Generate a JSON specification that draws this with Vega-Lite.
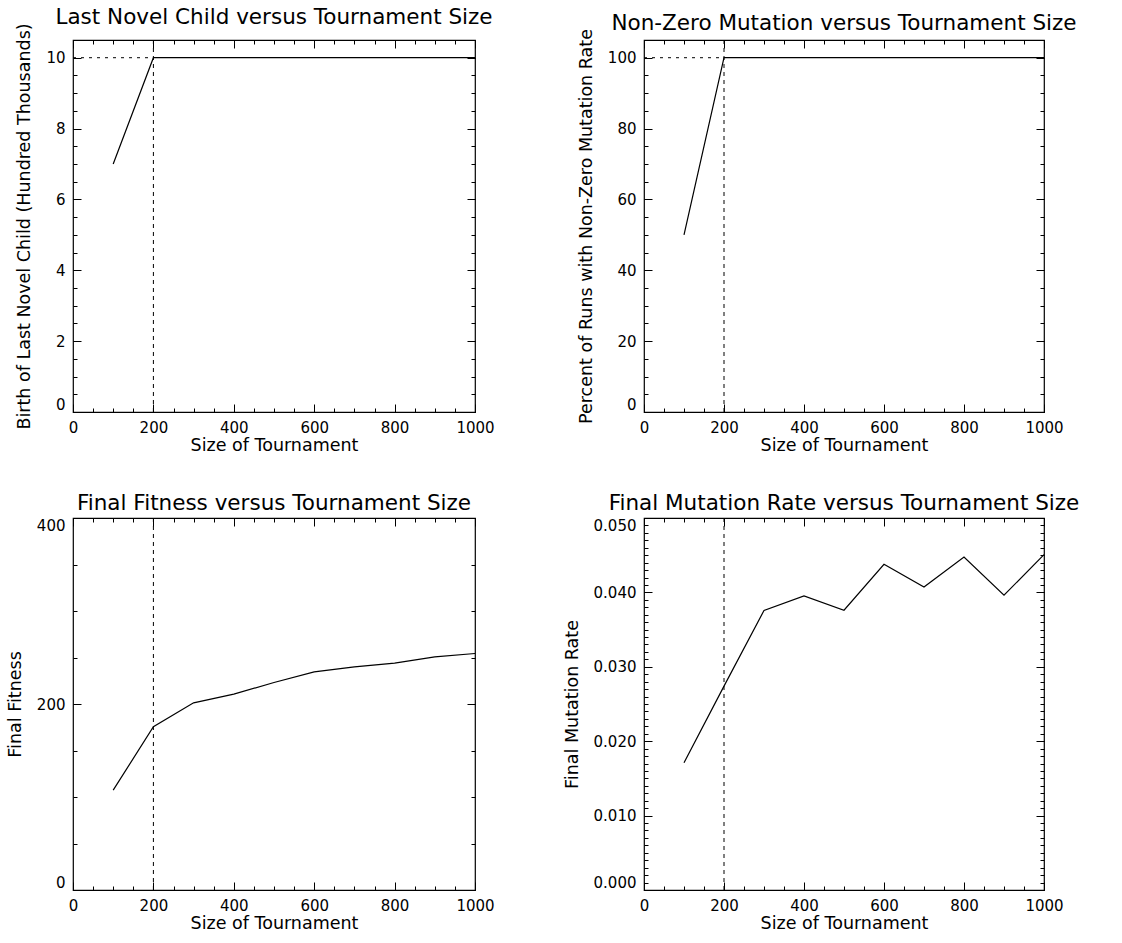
{
  "$schema": "https://vega.github.io/schema/vega-lite/v6.json",
  "padding": {"left": 5, "top": 6, "right": 5, "bottom": 5},
  "background": "white",
  "datasets": {
    "main": [
      {"size": 100, "birth": 7, "pct": 50, "fitness": 107.4, "mutrate": 0.0171},
      {"size": 200, "birth": 10, "pct": 100, "fitness": 175.5, "mutrate": 0.0274},
      {"size": 300, "birth": 10, "pct": 100, "fitness": 201.3, "mutrate": 0.03756},
      {"size": 400, "birth": 10, "pct": 100, "fitness": 210.6, "mutrate": 0.03953},
      {"size": 500, "birth": 10, "pct": 100, "fitness": 223.1, "mutrate": 0.0376},
      {"size": 600, "birth": 10, "pct": 100, "fitness": 234.6, "mutrate": 0.04378},
      {"size": 700, "birth": 10, "pct": 100, "fitness": 239.9, "mutrate": 0.04073},
      {"size": 800, "birth": 10, "pct": 100, "fitness": 243.9, "mutrate": 0.04476},
      {"size": 900, "birth": 10, "pct": 100, "fitness": 250.7, "mutrate": 0.03962},
      {"size": 1000, "birth": 10, "pct": 100, "fitness": 254.3, "mutrate": 0.04508}
    ]
  },
  "columns": 2,
  "spacing": {"row": 106, "column": 169},
  "bounds": "flush",
  "concat": [
    {
      "width": 402, "height": 372,
      "title": "Last Novel Child versus Tournament Size",
      "data": {"name": "main"},
      "layer": [
        {"mark": {"type": "line", "color": "black", "strokeWidth": 1.2},
         "encoding": {
           "x": {"field": "size", "type": "quantitative", "scale": {"domain": [0, 1000], "nice": false, "zero": false},
                 "axis": {"orient": "bottom", "values": [0, 200, 400, 600, 800, 1000], "format": "d", "ticks": false, "tickSize": 0, "labelPadding": 8, "title": "Size of Tournament", "titlePadding": 1}},
           "y": {"field": "birth", "type": "quantitative", "scale": {"domain": [0, 10.5], "nice": false, "zero": false},
                 "axis": {"orient": "left", "values": [0, 2, 4, 6, 8, 10], "format": "d", "ticks": false, "tickSize": 0, "labelPadding": 8, "labelFlush": true, "title": "Birth of Last Novel Child (Hundred Thousands)", "titlePadding": 12}}
         }},
        {"mark": {"type": "point", "opacity": 0},
         "encoding": {
           "x": {"field": "size", "type": "quantitative", "axis": {"orient": "bottom", "values": [0, 200, 400, 600, 800, 1000], "labels": false, "title": null, "tickSize": -8}},
           "y": {"field": "birth", "type": "quantitative", "axis": {"orient": "left", "values": [0, 2, 4, 6, 8, 10], "labels": false, "title": null, "tickSize": -8}}
         }},
        {"mark": {"type": "point", "opacity": 0},
         "encoding": {
           "x": {"field": "size", "type": "quantitative", "axis": {"orient": "bottom", "values": [0,50,100,150,200,250,300,350,400,450,500,550,600,650,700,750,800,850,900,950,1000], "labels": false, "title": null, "tickSize": -4}},
           "y": {"field": "birth", "type": "quantitative", "axis": {"orient": "left", "values": [0,0.5,1,1.5,2,2.5,3,3.5,4,4.5,5,5.5,6,6.5,7,7.5,8,8.5,9,9.5,10,10.5], "labels": false, "title": null, "tickSize": -4}}
         }},
        {"mark": {"type": "point", "opacity": 0},
         "encoding": {
           "x": {"field": "size", "type": "quantitative", "axis": {"orient": "top", "values": [0, 200, 400, 600, 800, 1000], "labels": false, "title": null, "tickSize": -8}},
           "y": {"field": "birth", "type": "quantitative", "axis": {"orient": "right", "values": [0, 2, 4, 6, 8, 10], "labels": false, "title": null, "tickSize": -8}}
         }},
        {"mark": {"type": "point", "opacity": 0},
         "encoding": {
           "x": {"field": "size", "type": "quantitative", "axis": {"orient": "top", "values": [0,50,100,150,200,250,300,350,400,450,500,550,600,650,700,750,800,850,900,950,1000], "labels": false, "title": null, "tickSize": -4}},
           "y": {"field": "birth", "type": "quantitative", "axis": {"orient": "right", "values": [0,0.5,1,1.5,2,2.5,3,3.5,4,4.5,5,5.5,6,6.5,7,7.5,8,8.5,9,9.5,10,10.5], "labels": false, "title": null, "tickSize": -4}}
         }},
        {"data": {"values": [{"xv": 200}]},
         "mark": {"type": "rule", "color": "black", "strokeWidth": 1, "strokeDash": [4, 4]},
         "encoding": {"x": {"field": "xv", "type": "quantitative", "axis": null}}},
        {"data": {"values": [{"xa": 0, "xb": 200, "yv": 10}]},
         "mark": {"type": "rule", "color": "black", "strokeWidth": 1, "strokeDash": [3, 5]},
         "encoding": {"x": {"field": "xa", "type": "quantitative", "axis": null}, "x2": {"field": "xb"}, "y": {"field": "yv", "type": "quantitative", "axis": null}}}
      ],
      "resolve": {"axis": {"x": "independent", "y": "independent"}}
    },
    {
      "width": 400, "height": 372,
      "title": "Non-Zero Mutation versus Tournament Size",
      "data": {"name": "main"},
      "layer": [
        {"mark": {"type": "line", "color": "black", "strokeWidth": 1.2},
         "encoding": {
           "x": {"field": "size", "type": "quantitative", "scale": {"domain": [0, 1000], "nice": false, "zero": false},
                 "axis": {"orient": "bottom", "values": [0, 200, 400, 600, 800, 1000], "format": "d", "ticks": false, "tickSize": 0, "labelPadding": 8, "title": "Size of Tournament", "titlePadding": 1}},
           "y": {"field": "pct", "type": "quantitative", "scale": {"domain": [0, 105], "nice": false, "zero": false},
                 "axis": {"orient": "left", "values": [0, 20, 40, 60, 80, 100], "format": "d", "ticks": false, "tickSize": 0, "labelPadding": 8, "labelFlush": true, "title": "Percent of Runs with Non-Zero Mutation Rate", "titlePadding": 12}}
         }},
        {"mark": {"type": "point", "opacity": 0},
         "encoding": {
           "x": {"field": "size", "type": "quantitative", "axis": {"orient": "bottom", "values": [0, 200, 400, 600, 800, 1000], "labels": false, "title": null, "tickSize": -8}},
           "y": {"field": "pct", "type": "quantitative", "axis": {"orient": "left", "values": [0, 20, 40, 60, 80, 100], "labels": false, "title": null, "tickSize": -8}}
         }},
        {"mark": {"type": "point", "opacity": 0},
         "encoding": {
           "x": {"field": "size", "type": "quantitative", "axis": {"orient": "bottom", "values": [0,50,100,150,200,250,300,350,400,450,500,550,600,650,700,750,800,850,900,950,1000], "labels": false, "title": null, "tickSize": -4}},
           "y": {"field": "pct", "type": "quantitative", "axis": {"orient": "left", "values": [0,5,10,15,20,25,30,35,40,45,50,55,60,65,70,75,80,85,90,95,100,105], "labels": false, "title": null, "tickSize": -4}}
         }},
        {"mark": {"type": "point", "opacity": 0},
         "encoding": {
           "x": {"field": "size", "type": "quantitative", "axis": {"orient": "top", "values": [0, 200, 400, 600, 800, 1000], "labels": false, "title": null, "tickSize": -8}},
           "y": {"field": "pct", "type": "quantitative", "axis": {"orient": "right", "values": [0, 20, 40, 60, 80, 100], "labels": false, "title": null, "tickSize": -8}}
         }},
        {"mark": {"type": "point", "opacity": 0},
         "encoding": {
           "x": {"field": "size", "type": "quantitative", "axis": {"orient": "top", "values": [0,50,100,150,200,250,300,350,400,450,500,550,600,650,700,750,800,850,900,950,1000], "labels": false, "title": null, "tickSize": -4}},
           "y": {"field": "pct", "type": "quantitative", "axis": {"orient": "right", "values": [0,5,10,15,20,25,30,35,40,45,50,55,60,65,70,75,80,85,90,95,100,105], "labels": false, "title": null, "tickSize": -4}}
         }},
        {"data": {"values": [{"xv": 200}]},
         "mark": {"type": "rule", "color": "black", "strokeWidth": 1, "strokeDash": [4, 4]},
         "encoding": {"x": {"field": "xv", "type": "quantitative", "axis": null}}},
        {"data": {"values": [{"xa": 0, "xb": 200, "yv": 100}]},
         "mark": {"type": "rule", "color": "black", "strokeWidth": 1, "strokeDash": [3, 5]},
         "encoding": {"x": {"field": "xa", "type": "quantitative", "axis": null}, "x2": {"field": "xb"}, "y": {"field": "yv", "type": "quantitative", "axis": null}}}
      ],
      "resolve": {"axis": {"x": "independent", "y": "independent"}}
    },
    {
      "width": 402, "height": 372,
      "title": {"text": "Final Fitness versus Tournament Size", "offset": 3},
      "data": {"name": "main"},
      "layer": [
        {"mark": {"type": "line", "color": "black", "strokeWidth": 1.2},
         "encoding": {
           "x": {"field": "size", "type": "quantitative", "scale": {"domain": [0, 1000], "nice": false, "zero": false},
                 "axis": {"orient": "bottom", "values": [0, 200, 400, 600, 800, 1000], "format": "d", "ticks": false, "tickSize": 0, "labelPadding": 8, "title": "Size of Tournament", "titlePadding": 1}},
           "y": {"field": "fitness", "type": "quantitative", "scale": {"domain": [0, 400], "nice": false, "zero": false},
                 "axis": {"orient": "left", "values": [0, 200, 400], "format": "d", "ticks": false, "tickSize": 0, "labelPadding": 8, "labelFlush": true, "title": "Final Fitness", "titlePadding": 12}}
         }},
        {"mark": {"type": "point", "opacity": 0},
         "encoding": {
           "x": {"field": "size", "type": "quantitative", "axis": {"orient": "bottom", "values": [0, 200, 400, 600, 800, 1000], "labels": false, "title": null, "tickSize": -8}},
           "y": {"field": "fitness", "type": "quantitative", "axis": {"orient": "left", "values": [0, 200, 400], "labels": false, "title": null, "tickSize": -8}}
         }},
        {"mark": {"type": "point", "opacity": 0},
         "encoding": {
           "x": {"field": "size", "type": "quantitative", "axis": {"orient": "bottom", "values": [0,50,100,150,200,250,300,350,400,450,500,550,600,650,700,750,800,850,900,950,1000], "labels": false, "title": null, "tickSize": -4}},
           "y": {"field": "fitness", "type": "quantitative", "axis": {"orient": "left", "values": [0,50,100,150,200,250,300,350,400], "labels": false, "title": null, "tickSize": -4}}
         }},
        {"mark": {"type": "point", "opacity": 0},
         "encoding": {
           "x": {"field": "size", "type": "quantitative", "axis": {"orient": "top", "values": [0, 200, 400, 600, 800, 1000], "labels": false, "title": null, "tickSize": -8}},
           "y": {"field": "fitness", "type": "quantitative", "axis": {"orient": "right", "values": [0, 200, 400], "labels": false, "title": null, "tickSize": -8}}
         }},
        {"mark": {"type": "point", "opacity": 0},
         "encoding": {
           "x": {"field": "size", "type": "quantitative", "axis": {"orient": "top", "values": [0,50,100,150,200,250,300,350,400,450,500,550,600,650,700,750,800,850,900,950,1000], "labels": false, "title": null, "tickSize": -4}},
           "y": {"field": "fitness", "type": "quantitative", "axis": {"orient": "right", "values": [0,50,100,150,200,250,300,350,400], "labels": false, "title": null, "tickSize": -4}}
         }},
        {"data": {"values": [{"xv": 200}]},
         "mark": {"type": "rule", "color": "black", "strokeWidth": 1, "strokeDash": [4, 4]},
         "encoding": {"x": {"field": "xv", "type": "quantitative", "axis": null}}}
      ],
      "resolve": {"axis": {"x": "independent", "y": "independent"}}
    },
    {
      "width": 400, "height": 372,
      "title": {"text": "Final Mutation Rate versus Tournament Size", "offset": 3},
      "data": {"name": "main"},
      "layer": [
        {"mark": {"type": "line", "color": "black", "strokeWidth": 1.2},
         "encoding": {
           "x": {"field": "size", "type": "quantitative", "scale": {"domain": [0, 1000], "nice": false, "zero": false},
                 "axis": {"orient": "bottom", "values": [0, 200, 400, 600, 800, 1000], "format": "d", "ticks": false, "tickSize": 0, "labelPadding": 8, "title": "Size of Tournament", "titlePadding": 1}},
           "y": {"field": "mutrate", "type": "quantitative", "scale": {"domain": [0, 0.05], "nice": false, "zero": false},
                 "axis": {"orient": "left", "values": [0, 0.01, 0.02, 0.03, 0.04, 0.05], "format": ".3f", "ticks": false, "tickSize": 0, "labelPadding": 8, "labelFlush": true, "title": "Final Mutation Rate", "titlePadding": 12}}
         }},
        {"mark": {"type": "point", "opacity": 0},
         "encoding": {
           "x": {"field": "size", "type": "quantitative", "axis": {"orient": "bottom", "values": [0, 200, 400, 600, 800, 1000], "labels": false, "title": null, "tickSize": -8}},
           "y": {"field": "mutrate", "type": "quantitative", "axis": {"orient": "left", "values": [0, 0.01, 0.02, 0.03, 0.04, 0.05], "labels": false, "title": null, "tickSize": -8}}
         }},
        {"mark": {"type": "point", "opacity": 0},
         "encoding": {
           "x": {"field": "size", "type": "quantitative", "axis": {"orient": "bottom", "values": [0,50,100,150,200,250,300,350,400,450,500,550,600,650,700,750,800,850,900,950,1000], "labels": false, "title": null, "tickSize": -4}},
           "y": {"field": "mutrate", "type": "quantitative", "axis": {"orient": "left", "values": [0,0.001,0.002,0.003,0.004,0.005,0.006,0.007,0.008,0.009,0.01,0.011,0.012,0.013,0.014,0.015,0.016,0.017,0.018,0.019,0.02,0.021,0.022,0.023,0.024,0.025,0.026,0.027,0.028,0.029,0.03,0.031,0.032,0.033,0.034,0.035,0.036,0.037,0.038,0.039,0.04,0.041,0.042,0.043,0.044,0.045,0.046,0.047,0.048,0.049,0.05], "labels": false, "title": null, "tickSize": -4}}
         }},
        {"mark": {"type": "point", "opacity": 0},
         "encoding": {
           "x": {"field": "size", "type": "quantitative", "axis": {"orient": "top", "values": [0, 200, 400, 600, 800, 1000], "labels": false, "title": null, "tickSize": -8}},
           "y": {"field": "mutrate", "type": "quantitative", "axis": {"orient": "right", "values": [0, 0.01, 0.02, 0.03, 0.04, 0.05], "labels": false, "title": null, "tickSize": -8}}
         }},
        {"mark": {"type": "point", "opacity": 0},
         "encoding": {
           "x": {"field": "size", "type": "quantitative", "axis": {"orient": "top", "values": [0,50,100,150,200,250,300,350,400,450,500,550,600,650,700,750,800,850,900,950,1000], "labels": false, "title": null, "tickSize": -4}},
           "y": {"field": "mutrate", "type": "quantitative", "axis": {"orient": "right", "values": [0,0.001,0.002,0.003,0.004,0.005,0.006,0.007,0.008,0.009,0.01,0.011,0.012,0.013,0.014,0.015,0.016,0.017,0.018,0.019,0.02,0.021,0.022,0.023,0.024,0.025,0.026,0.027,0.028,0.029,0.03,0.031,0.032,0.033,0.034,0.035,0.036,0.037,0.038,0.039,0.04,0.041,0.042,0.043,0.044,0.045,0.046,0.047,0.048,0.049,0.05], "labels": false, "title": null, "tickSize": -4}}
         }},
        {"data": {"values": [{"xv": 200}]},
         "mark": {"type": "rule", "color": "black", "strokeWidth": 1, "strokeDash": [4, 4]},
         "encoding": {"x": {"field": "xv", "type": "quantitative", "axis": null}}}
      ],
      "resolve": {"axis": {"x": "independent", "y": "independent"}}
    }
  ],
  "config": {
    "view": {"stroke": "black", "strokeWidth": 1.2},
    "font": "DejaVu Sans",
    "axis": {"domain": false, "grid": false, "minExtent": 0, "tickColor": "black", "tickWidth": 1, "labelColor": "black", "titleColor": "black", "labelFont": "DejaVu Sans", "titleFont": "DejaVu Sans", "labelFontSize": 15, "titleFontSize": 17.5, "titleFontWeight": "normal", "labelFlush": false, "labelOverlap": false},
    "title": {"font": "DejaVu Sans", "fontSize": 21.5, "fontWeight": "normal", "color": "black", "anchor": "middle", "frame": "group", "offset": -6}
  }
}
